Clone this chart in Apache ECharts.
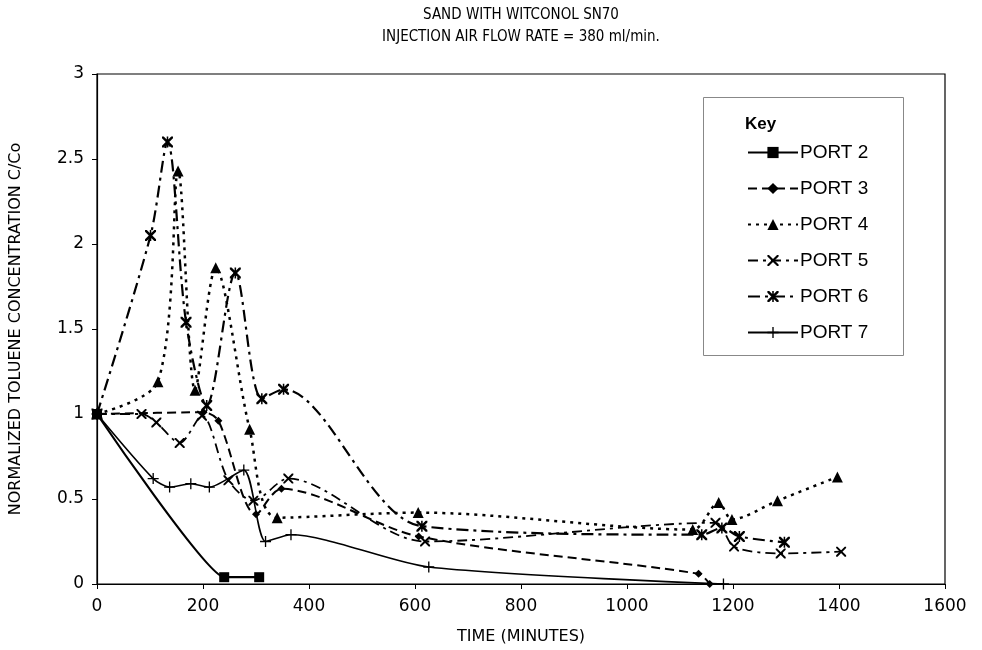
<!DOCTYPE html>
<html>
<head>
<meta charset="utf-8">
<script src="https://cdn.jsdelivr.net/npm/echarts@6/dist/echarts.min.js"></script>
<style>
  html, body { margin: 0; padding: 0; background: #fff; }
  #chart { width: 982px; height: 650px; }
</style>
</head>
<body>
<div id="chart"></div>
<script>
// Elapsed time (minutes) and normalized toluene concentration C/Co per sampling port
const port2Time = [0, 240, 306];
const port2Conc = [1.0, 0.04, 0.04];

const port3Time = [0, 201, 229, 300, 348, 607, 1135, 1156];
const port3Conc = [1.0, 1.01, 0.96, 0.41, 0.56, 0.28, 0.06, 0.0];

const port4Time = [0, 115, 153, 185, 224, 288, 340, 606, 1124, 1173, 1198, 1284, 1397];
const port4Conc = [1.0, 1.19, 2.43, 1.14, 1.86, 0.91, 0.39, 0.42, 0.32, 0.48, 0.38, 0.49, 0.63];

const port5Time = [0, 84, 112, 156, 198, 248, 295, 361, 619, 1167, 1202, 1290, 1404];
const port5Conc = [1.0, 1.0, 0.95, 0.83, 0.99, 0.61, 0.49, 0.62, 0.25, 0.36, 0.22, 0.18, 0.19];

const port6Time = [0, 101, 133, 168, 207, 261, 311, 352, 613, 1141, 1179, 1212, 1297];
const port6Conc = [1.0, 2.05, 2.6, 1.54, 1.05, 1.83, 1.09, 1.145, 0.34, 0.29, 0.33, 0.28, 0.245];

const port7Time = [0, 106, 137, 177, 212, 277, 318, 366, 626, 1182];
const port7Conc = [1.0, 0.62, 0.57, 0.59, 0.57, 0.67, 0.25, 0.29, 0.10, 0.0];

const seriesNames = ['PORT 2', 'PORT 3', 'PORT 4', 'PORT 5', 'PORT 6', 'PORT 7'];

const titleLines = ['SAND WITH WITCONOL SN70', 'INJECTION AIR FLOW RATE = 380 ml/min.'];

// Stroke-like marker shapes built from thin filled bars
const crossX = 'path://M0,0 L1.4,0 L10,8.6 L10,10 L8.6,10 L0,1.4 Z M8.6,0 L10,0 L10,1.4 L1.4,10 L0,10 L0,8.6 Z';
const asterisk = 'path://M0,0 L1.6,0 L10,8.4 L10,10 L8.4,10 L0,1.6 Z M8.4,0 L10,0 L10,1.6 L1.6,10 L0,10 L0,8.4 Z M4.3,0 L5.7,0 L5.7,10 L4.3,10 Z';
const plus = 'path://M4.4,0 L5.6,0 L5.6,10 L4.4,10 Z M0,4.4 L10,4.4 L10,5.6 L0,5.6 Z';

function zip(t, c) { return t.map((v, i) => [v, c[i]]); }

const styles = [
  { t: port2Time, c: port2Conc, symbol: 'rect', size: 10, width: 2.2, type: 'solid', smooth: 0.12 },
  { t: port3Time, c: port3Conc, symbol: 'diamond', size: 8, width: 2, type: [9, 5], smooth: 0.3 },
  { t: port4Time, c: port4Conc, symbol: 'triangle', size: 11, width: 2.5, type: [3, 5], smooth: 0.3 },
  { t: port5Time, c: port5Conc, symbol: crossX, size: 10, width: 1.8, type: [10, 5, 3, 5], smooth: 0.3 },
  { t: port6Time, c: port6Conc, symbol: asterisk, size: 11, width: 2.2, type: [12, 5, 3, 5], smooth: 0.3 },
  { t: port7Time, c: port7Conc, symbol: plus, size: 11, width: 1.6, type: 'solid', smooth: 0.25 }
];

const series = styles.map((s, i) => ({
  name: seriesNames[i],
  type: 'line',
  data: zip(s.t, s.c),
  smooth: s.smooth,
  symbol: s.symbol,
  symbolSize: s.size,
  showAllSymbol: true,
  itemStyle: { color: '#000' },
  lineStyle: { color: '#000', width: s.width, type: s.type },
  emphasis: { disabled: true },
  z: 2 + i
}));

const chart = echarts.init(document.getElementById('chart'), null, { renderer: 'canvas' });

chart.setOption({
  animation: false,
  backgroundColor: '#fff',
  grid: {
    left: 97, right: 37, top: 74, bottom: 66,
    show: true, borderColor: '#000', borderWidth: 1.2, backgroundColor: 'transparent'
  },
  graphic: [
    {
      type: 'text',
      style: { text: titleLines[0], x: 521, y: 15, textAlign: 'center', textVerticalAlign: 'middle',
               font: '15px "Liberation Sans Narrow", "DejaVu Sans Condensed", sans-serif', fill: '#000' }
    },
    {
      type: 'text',
      style: { text: titleLines[1], x: 521, y: 37, textAlign: 'center', textVerticalAlign: 'middle',
               font: '15px "Liberation Sans Narrow", "DejaVu Sans Condensed", sans-serif', fill: '#000' }
    },
    {
      type: 'rect', z: 1,
      shape: { x: 703.5, y: 97.5, width: 200, height: 258 },
      style: { fill: '#fff', stroke: '#888', lineWidth: 1 }
    },
    {
      type: 'text', z: 2,
      style: { text: 'Key', x: 745, y: 124, textVerticalAlign: 'middle',
               font: 'bold 17px "Liberation Sans", sans-serif', fill: '#000' }
    }
  ],
  legend: {
    orient: 'vertical',
    left: 742, top: 138,
    itemWidth: 50, itemHeight: 14, itemGap: 17,
    data: seriesNames,
    textStyle: { fontFamily: '"Liberation Sans", sans-serif', fontSize: 19, color: '#000', padding: [0, 0, 0, -3] },
    selectedMode: false,
    z: 5
  },
  xAxis: {
    type: 'value', min: 0, max: 1600, interval: 200,
    name: 'TIME (MINUTES)', nameLocation: 'middle', nameGap: 45,
    nameTextStyle: { fontFamily: '"DejaVu Sans", sans-serif', fontSize: 16, color: '#000' },
    axisLine: { onZero: false, lineStyle: { color: '#000', width: 1.2 } },
    axisTick: { show: true, length: 5, lineStyle: { color: '#000' } },
    axisLabel: { margin: 14, fontFamily: '"DejaVu Sans", sans-serif', fontSize: 17, color: '#000',
                 formatter: v => String(v) },
    splitLine: { show: false }
  },
  yAxis: {
    type: 'value', min: 0, max: 3, interval: 0.5,
    name: 'NORMALIZED TOLUENE CONCENTRATION C/Co', nameLocation: 'middle', nameGap: 73, nameRotate: 90,
    nameTextStyle: { fontFamily: '"DejaVu Sans", sans-serif', fontSize: 16, color: '#000' },
    axisLine: { show: true, lineStyle: { color: '#000', width: 1.2 } },
    axisTick: { show: true, length: 5, lineStyle: { color: '#000' } },
    axisLabel: { margin: 13, fontFamily: '"DejaVu Sans", sans-serif', fontSize: 17, color: '#000' },
    splitLine: { show: false }
  },
  series: series
});
</script>
</body>
</html>
